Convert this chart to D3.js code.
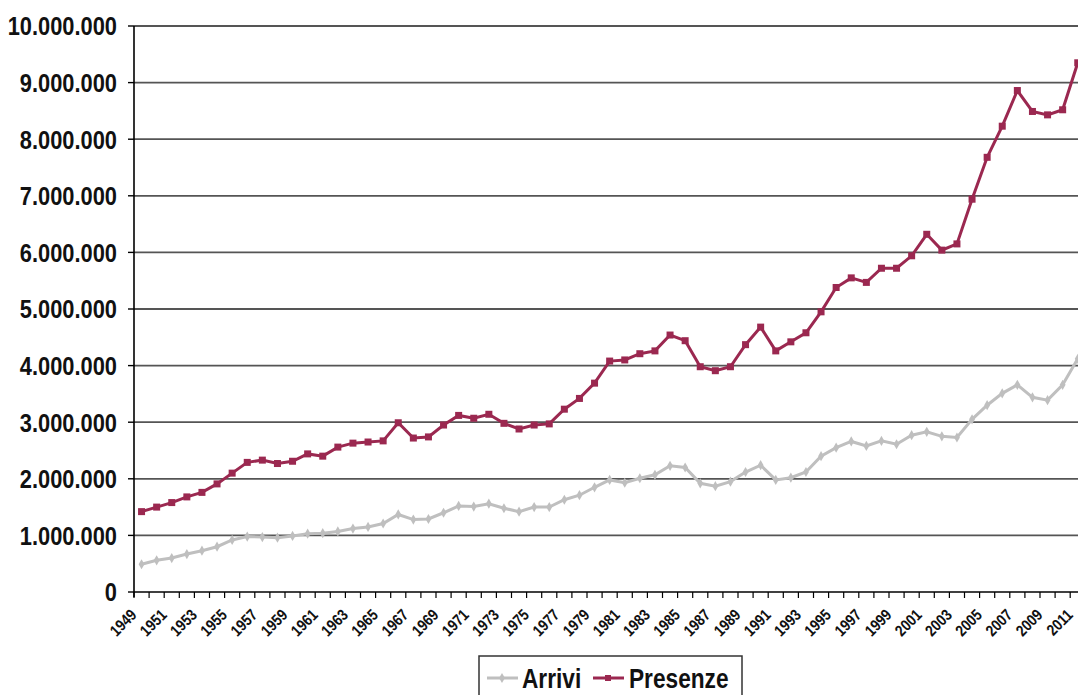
<!DOCTYPE html>
<html>
<head>
<meta charset="utf-8">
<script src="https://cdn.jsdelivr.net/npm/d3@7"></script>
<style>
  html, body { margin: 0; padding: 0; background: #fff; }
  svg { display: block; }
</style>
</head>
<body>
<div id="chart"></div>
<script>
/* Data */
var years = d3.range(1949, 2012); // 1949 .. 2011

var arrivi = [
  490000, 560000, 600000, 670000, 730000, 800000, 920000, 980000, 970000, 960000,
  990000, 1030000, 1040000, 1070000, 1120000, 1150000, 1210000, 1370000, 1280000, 1290000,
  1400000, 1520000, 1510000, 1560000, 1480000, 1420000, 1500000, 1500000, 1630000, 1710000,
  1850000, 1980000, 1930000, 2010000, 2070000, 2230000, 2200000, 1920000, 1870000, 1950000,
  2120000, 2240000, 1980000, 2020000, 2120000, 2400000, 2550000, 2660000, 2580000, 2670000,
  2610000, 2770000, 2830000, 2750000, 2730000, 3050000, 3300000, 3510000, 3660000, 3440000,
  3390000, 3660000, 4120000
];

var presenze = [
  1420000, 1500000, 1580000, 1680000, 1760000, 1910000, 2100000, 2290000, 2330000, 2270000,
  2310000, 2440000, 2400000, 2560000, 2630000, 2650000, 2670000, 2990000, 2720000, 2740000,
  2950000, 3120000, 3070000, 3140000, 2980000, 2880000, 2950000, 2970000, 3230000, 3420000,
  3690000, 4080000, 4100000, 4210000, 4260000, 4540000, 4440000, 3980000, 3910000, 3980000,
  4370000, 4680000, 4260000, 4420000, 4580000, 4950000, 5380000, 5550000, 5470000, 5720000,
  5720000, 5940000, 6320000, 6040000, 6150000, 6940000, 7680000, 8230000, 8860000, 8490000,
  8430000, 8520000, 9350000
];

var seriesNames = ["Arrivi", "Presenze"];
var yTicks = d3.range(0, 10000001, 1000000);

/* Layout */
var width = 1078,
    height = 695,
    plotLeft = 134,
    plotTop = 26,
    plotBottom = 592,
    step = 15.1;

var fontFamily = "'Liberation Sans', Arial, sans-serif";
var narrow = 0.84; // horizontal squeeze to imitate a narrow bold face
var colArrivi = "#bfbfbf",
    colPresenze = "#9b2850";

var it = d3.formatLocale({ decimal: ",", thousands: ".", grouping: [3], currency: ["", ""] });
var fmt = it.format(",d");

var svg = d3.select("#chart").append("svg")
    .attr("width", width)
    .attr("height", height);

var x = d3.scaleBand()
    .domain(years)
    .range([plotLeft, plotLeft + years.length * step]);

var y = d3.scaleLinear()
    .domain([0, 10000000])
    .range([plotBottom, plotTop]);

function cx(d) { return x(d) + x.bandwidth() / 2; }

/* Gridlines */
svg.append("g").selectAll("line")
    .data(yTicks.filter(function(d) { return d > 0; }))
    .enter().append("line")
    .attr("x1", plotLeft)
    .attr("x2", width)
    .attr("y1", function(d) { return y(d); })
    .attr("y2", function(d) { return y(d); })
    .attr("stroke", "#555")
    .attr("stroke-width", 1.8);

/* Y axis */
var yAxis = svg.append("g");
yAxis.append("line")
    .attr("x1", plotLeft).attr("x2", plotLeft)
    .attr("y1", plotTop).attr("y2", plotBottom + 5)
    .attr("stroke", "#000").attr("stroke-width", 1.6);
yAxis.selectAll(".tk")
    .data(yTicks)
    .enter().append("line")
    .attr("x1", plotLeft - 6).attr("x2", plotLeft)
    .attr("y1", function(d) { return y(d); })
    .attr("y2", function(d) { return y(d); })
    .attr("stroke", "#000").attr("stroke-width", 1.4);
yAxis.selectAll("text")
    .data(yTicks)
    .enter().append("text")
    .attr("transform", function(d) { return "translate(117," + y(d) + ") scale(" + narrow + ",1)"; })
    .attr("dy", "0.36em")
    .attr("text-anchor", "end")
    .attr("font-family", fontFamily)
    .attr("font-weight", "bold")
    .attr("font-size", 26)
    .attr("fill", "#111")
    .text(function(d) { return fmt(d); });

/* X axis */
var xAxis = svg.append("g");
xAxis.append("line")
    .attr("x1", plotLeft).attr("x2", width)
    .attr("y1", plotBottom).attr("y2", plotBottom)
    .attr("stroke", "#000").attr("stroke-width", 1.6);
xAxis.selectAll(".tk")
    .data(years)
    .enter().append("line")
    .attr("x1", function(d) { return x(d); })
    .attr("x2", function(d) { return x(d); })
    .attr("y1", plotBottom).attr("y2", plotBottom + 6)
    .attr("stroke", "#000").attr("stroke-width", 1.2);
xAxis.selectAll("text")
    .data(years.filter(function(d) { return d % 2 == 1; }))
    .enter().append("text")
    .attr("transform", function(d) {
        return "translate(" + (cx(d) - 4) + "," + (plotBottom + 24) + ") rotate(-45) scale(" + narrow + ",1)";
    })
    .attr("text-anchor", "end")
    .attr("font-family", fontFamily)
    .attr("font-weight", "bold")
    .attr("font-size", 16)
    .attr("fill", "#111")
    .text(function(d) { return d; });

/* Lines */
var line = d3.line()
    .x(function(d, i) { return cx(years[i]); })
    .y(function(d) { return y(d); });

svg.append("path")
    .datum(arrivi)
    .attr("d", line)
    .attr("fill", "none")
    .attr("stroke", colArrivi)
    .attr("stroke-width", 3);

svg.append("g").selectAll("path")
    .data(arrivi)
    .enter().append("path")
    .attr("d", d3.symbol().type(d3.symbolDiamond).size(30))
    .attr("transform", function(d, i) { return "translate(" + cx(years[i]) + "," + y(d) + ")"; })
    .attr("fill", colArrivi);

svg.append("path")
    .datum(presenze)
    .attr("d", line)
    .attr("fill", "none")
    .attr("stroke", colPresenze)
    .attr("stroke-width", 3);

svg.append("g").selectAll("rect")
    .data(presenze)
    .enter().append("rect")
    .attr("x", function(d, i) { return cx(years[i]) - 3.5; })
    .attr("y", function(d) { return y(d) - 3.5; })
    .attr("width", 7)
    .attr("height", 7)
    .attr("fill", colPresenze);

/* Legend */
var legend = svg.append("g");
legend.append("rect")
    .attr("x", 479).attr("y", 656)
    .attr("width", 263).attr("height", 50)
    .attr("fill", "#fff")
    .attr("stroke", "#333")
    .attr("stroke-width", 1.5);

var legItems = [
  { name: seriesNames[0], color: colArrivi, lx: 487, tx: 522 },
  { name: seriesNames[1], color: colPresenze, lx: 593, tx: 629 }
];
legItems.forEach(function(d) {
  legend.append("line")
    .attr("x1", d.lx).attr("x2", d.lx + 31)
    .attr("y1", 678).attr("y2", 678)
    .attr("stroke", d.color).attr("stroke-width", 3);
  if (d.name == "Presenze") {
    legend.append("rect")
      .attr("x", d.lx + 12).attr("y", 675)
      .attr("width", 6).attr("height", 6)
      .attr("fill", d.color);
  } else {
    legend.append("path")
      .attr("d", d3.symbol().type(d3.symbolDiamond).size(30))
      .attr("transform", "translate(" + (d.lx + 15) + ",678)")
      .attr("fill", d.color);
  }
  legend.append("text")
    .attr("transform", "translate(" + d.tx + ",688) scale(" + narrow + ",1)")
    .attr("font-family", fontFamily)
    .attr("font-weight", "bold")
    .attr("font-size", 27)
    .attr("fill", "#111")
    .text(d.name);
});
</script>
</body>
</html>
